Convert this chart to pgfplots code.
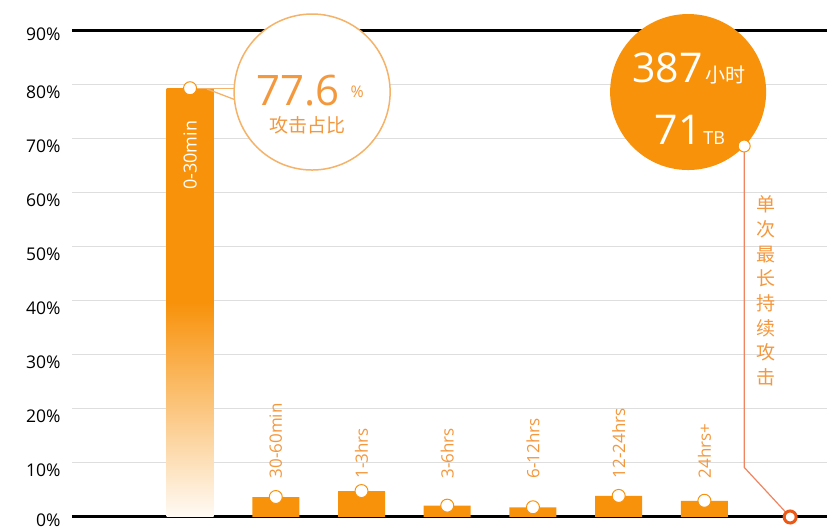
\documentclass[border=0pt]{standalone}
\usepackage{pgfplots}
\pgfplotsset{compat=1.18}
\usepackage{fontspec}
\setmainfont{Open Sans}
\newfontfamily\cjk{Noto Sans CJK SC}
\definecolor{barorange}{RGB}{248,146,11}
\definecolor{textorange}{RGB}{244,152,62}
\definecolor{lineorange}{RGB}{240,132,96}
\definecolor{circline}{RGB}{245,178,105}
\definecolor{redorange}{RGB}{236,88,22}
\tikzset{barlab/.style={rotate=90, anchor=west, text=textorange, font=\fontsize{17}{17}\selectfont}}
\begin{document}
\begin{tikzpicture}
\path[use as bounding box] (-72pt,-13pt) rectangle (767pt,517pt);
\begin{axis}[
  at={(0,0)}, anchor=south west,
  scale only axis, width=755pt, height=486pt,
  xmin=-1.377, xmax=7.43, ymin=0, ymax=90,
  axis line style={draw=none},
  xtick=\empty,
  ytick={10,20,...,80},
  extra y ticks={0,90},
  extra y tick style={yticklabel style={yshift=4pt}},
  yticklabel={\pgfmathprintnumber{\tick}\%},
  yticklabel style={font=\fontsize{17.5}{17.5}\selectfont, text=black, xshift=-8pt, yshift=-7pt},
  /pgf/number format/assume math mode=true,
  major tick length=0pt,
  ymajorgrids, grid style={draw=black!13, line width=1pt},
  clip=false,
]
% thick base and top lines
\draw[black, line width=3pt] (axis cs:-1.377,0) -- (axis cs:7.43,0);
\draw[black, line width=3pt] (axis cs:-1.377,90) -- (axis cs:7.43,90);

% bars
\addplot[ybar, bar width=47pt, bar shift=0pt, draw=none,
  top color=barorange, bottom color=barorange!4!white, middle color=barorange]
  coordinates {(0,79.4)};
\addplot[ybar, bar width=47pt, bar shift=0pt, draw=none, fill=barorange]
  coordinates {(1,3.7) (2,4.8) (3,2.1) (4,1.8) (5,3.9) (6,3.0)};

% bar labels
\node[rotate=90, text=white, font=\fontsize{18}{18}\selectfont] at (axis cs:0,67.0) {0-30min};
\node[barlab] at (axis cs:1,6.5) {30-60min};
\node[barlab] at (axis cs:2,6.5) {1-3hrs};
\node[barlab] at (axis cs:3,6.5) {3-6hrs};
\node[barlab] at (axis cs:4,6.5) {6-12hrs};
\node[barlab] at (axis cs:5,6.5) {12-24hrs};
\node[barlab] at (axis cs:6,6.5) {24hrs+};

% callout for first bar
\draw[circline, line width=1.3pt] (axis cs:0,79.4) -- (axis cs:0.70,79.4);
\draw[circline, line width=1.3pt] (axis cs:0.198,79.26) -- (axis cs:0.80,75.6);
\draw[circline, line width=1.5pt, fill=white] (axis cs:1.424,78.7) circle[radius=78pt];
\node[text=textorange, font=\fontsize{42}{42}\selectfont, anchor=base] at (axis cs:1.26,76.2) {77.6};
\node[text=textorange, font=\fontsize{16}{16}\selectfont, anchor=base] at (axis cs:1.95,77.6) {\%};
\node[text=textorange, font=\cjk\fontsize{19}{19}\selectfont] at (axis cs:1.365,72.6) {攻击占比};

% longest attack callout
\fill[barorange] (axis cs:5.81,78.7) circle[radius=78pt];
\node[text=white, anchor=base] at (axis cs:5.82,80.4)
  {\fontsize{41}{41}\selectfont 387\hspace{3pt}{\cjk\fontsize{20}{20}\selectfont 小时}};
\node[text=white, anchor=base] at (axis cs:5.83,68.9)
  {\fontsize{41}{41}\selectfont 71\hspace{2pt}{\fontsize{18}{18}\selectfont TB}};
\draw[lineorange, line width=1.2pt] (axis cs:6.464,68.7) -- (axis cs:6.464,9.2) -- (axis cs:7,0);
\node[text=textorange, align=center, font=\cjk\fontsize{19}{24.7}\selectfont] at (axis cs:6.715,41.85)
  {单\\次\\最\\长\\持\\续\\攻\\击};

% markers
\addplot[only marks, mark=*, mark size=6.5pt, mark options={fill=white, draw=barorange, line width=1pt}]
  coordinates {(0,79.4) (1,3.7) (2,4.8) (3,2.1) (4,1.8) (5,3.9) (6,3.0)};
\addplot[only marks, mark=*, mark size=6pt, mark options={fill=white, draw=barorange, line width=1pt}]
  coordinates {(6.464,68.7)};
\addplot[only marks, mark=*, mark size=6pt, mark options={fill=white, draw=redorange, line width=3pt}]
  coordinates {(7,0)};
\end{axis}
\end{tikzpicture}
\end{document}
